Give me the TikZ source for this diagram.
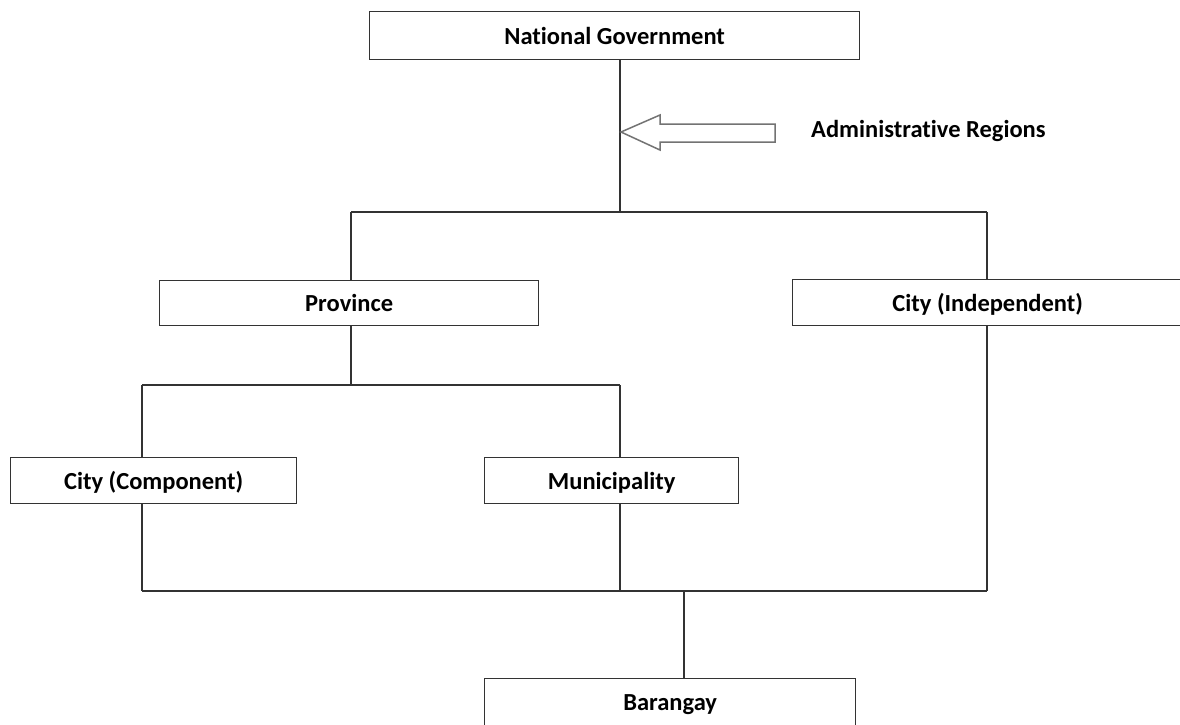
\documentclass[tikz,border=0pt]{standalone}
\usepackage{fontspec}
\setmainfont[Ligatures=CommonOff]{Carlito}
\begin{document}
\begin{tikzpicture}[x=1pt,y=-1pt,
  lbl/.style={font=\bfseries\fontsize{24.5}{28}\selectfont},
  box/.style={lbl,draw=black!80,line width=1.3pt,fill=white,inner sep=0pt,anchor=north west},
  low/.style={text depth=0pt},
  conn/.style={draw=black!80,line width=1.3pt}]
\useasboundingbox[fill=white] (0,0) rectangle (1180,724);
% boxes
\node[box,minimum width=490pt,minimum height=48pt] (ng) at (369,11) {National Government};
\node[box,minimum width=379pt,minimum height=45pt] (prov) at (159,280) {Province};
\node[box,low,minimum width=390pt,minimum height=46pt] (ci) at (792,279) {City (Independent)};
\node[box,low,minimum width=286pt,minimum height=46pt] (cc) at (10,457) {City (Component)};
\node[box,low,minimum width=254pt,minimum height=46pt] (mun) at (484,457) {Municipality};
\node[box,low,minimum width=371pt,minimum height=48pt] (bar) at (484,678) {Barangay};
\node[lbl,anchor=west,inner sep=0pt] (ar) at (811,131) {Administrative Regions};
% junction coordinates
\coordinate (j1) at (620,212);
\coordinate (j1l) at (351,212);
\coordinate (j1r) at (987,212);
\coordinate (j2) at (351,385);
\coordinate (j2l) at (142,385);
\coordinate (j2r) at (620,385);
\coordinate (j3l) at (142,591);
\coordinate (j3m) at (620,591);
\coordinate (j3r) at (987,591);
\coordinate (j3b) at (684,591);
% connectors
\draw[conn] (ng.south -| j1) -- (j1);
\draw[conn] (j1l) -- (j1r);
\draw[conn] (j1l) -- (prov.north -| j1l);
\draw[conn] (j1r) -- (ci.north -| j1r);
\draw[conn] (prov.south -| j2) -- (j2);
\draw[conn] (j2l) -- (j2r);
\draw[conn] (j2l) -- (cc.north -| j2l);
\draw[conn] (j2r) -- (mun.north -| j2r);
\draw[conn] (cc.south -| j3l) -- (j3l);
\draw[conn] (mun.south -| j3m) -- (j3m);
\draw[conn] (ci.south -| j3r) -- (j3r);
\draw[conn] (j3l) -- (j3r);
\draw[conn] (j3b) -- (bar.north -| j3b);
% hollow arrow
\draw[draw=black!55,line width=1.5pt,fill=white,line join=miter]
  (775,124) -- (660,124) -- (660,115) -- (621,132) -- (660,150) -- (660,142) -- (775,142) -- cycle;
\end{tikzpicture}
\end{document}
